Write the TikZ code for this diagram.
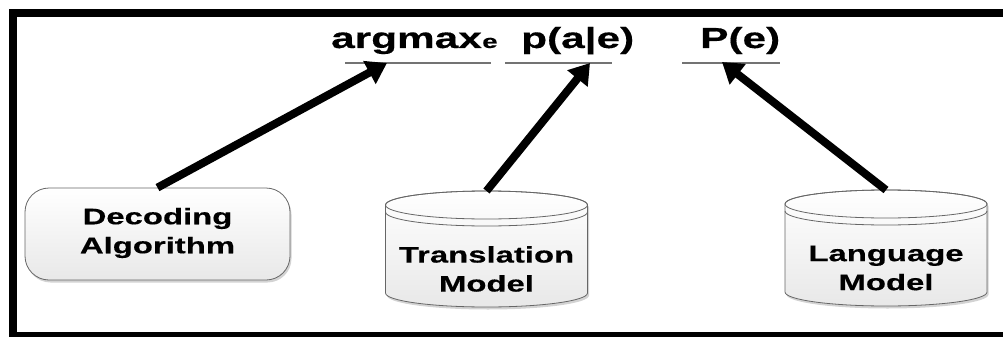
\documentclass[tikz,border=0pt]{standalone}
\usepackage{fontspec}
\setmainfont{Liberation Sans}
\newfontfamily\widesans[FakeStretch=1.46,FakeBold=0.4]{Liberation Sans}
\usetikzlibrary{arrows.meta,shadows}

\tikzset{
  formula/.style={anchor=base west, inner sep=0pt,
    font=\widesans\bfseries\fontsize{29}{29}\selectfont},
  subscript/.style={anchor=base west, inner sep=0pt,
    font=\widesans\bfseries\fontsize{19}{19}\selectfont},
  termrule/.style={draw=black!55, line width=1.3pt},
  feed/.style={-{Triangle[length=20pt,width=25pt]}, line width=8pt, black},
  boxlabel/.style={align=center, inner sep=0pt,
    font=\widesans\bfseries\fontsize{22.5}{29}\selectfont},
  softfill/.style={draw=black!60, line width=0.8pt, top color=white,
    bottom color=black!9,
    drop shadow={opacity=0.35, shadow xshift=1.5pt, shadow yshift=-2.5pt}},
  roundbox/.style={softfill, rounded corners=24pt,
    minimum width=265pt, minimum height=92pt, inner sep=0pt},
  drum/.pic={
    \path[softfill] (-101,0) -- (-101,88)
      arc[start angle=180, end angle=0, x radius=101, y radius=14]
      -- (101,0)
      arc[start angle=0, end angle=-180, x radius=101, y radius=14] -- cycle;
    \draw[draw=black!60, line width=0.8pt] (0,0) ellipse[x radius=101, y radius=14];
    \draw[draw=black!60, line width=0.8pt] (-101,7)
      arc[start angle=180, end angle=0, x radius=101, y radius=14];
    \coordinate (-top) at (0,-14);
  }
}

\begin{document}
\begin{tikzpicture}[x=1pt, y=-1pt]
  \useasboundingbox (0,0) rectangle (1003,337);
  \clip (0,0) rectangle (1003,337);

  % outer frame (runs past the right and bottom edges)
  \draw[line width=8pt, black] (13,13) rectangle (1030,336);

  % formula terms
  \node[formula] (argmax) at (331,48) {argmax};
  \node[subscript] (sub) at (482,48) {e};
  \node[formula] (likelihood) at (521,48) {p(a|e)};
  \node[formula] (prior) at (700,48) {P(e)};

  % rules under the terms
  \coordinate (r1a) at (345,63);  \coordinate (r1b) at (491,63);
  \coordinate (r2a) at (505,63);  \coordinate (r2b) at (612,63);
  \coordinate (r3a) at (682,63);  \coordinate (r3b) at (780,63);
  \draw[termrule] (r1a) -- (r1b);
  \draw[termrule] (r2a) -- (r2b);
  \draw[termrule] (r3a) -- (r3b);

  % arrow targets on the rules
  \coordinate (t1) at (387,63);
  \coordinate (t2) at (590,63);
  \coordinate (t3) at (722,62);

  % components
  \node[roundbox] (dec) at (157.5,234) {};
  \node[boxlabel] (declabel) at (157.5,233) {Decoding\\Algorithm};

  \pic (tm) at (486.5,205) {drum};
  \node[boxlabel] (tmlabel) at (486.5,269) {Translation\\Model};

  \pic (lm) at (886,204) {drum};
  \node[boxlabel] (lmlabel) at (886,268) {Language\\Model};

  % connectors
  \draw[feed] (dec.north) -- (t1);
  \draw[feed] (tm-top) -- (t2);
  \draw[feed] (lm-top) -- (t3);
\end{tikzpicture}
\end{document}
